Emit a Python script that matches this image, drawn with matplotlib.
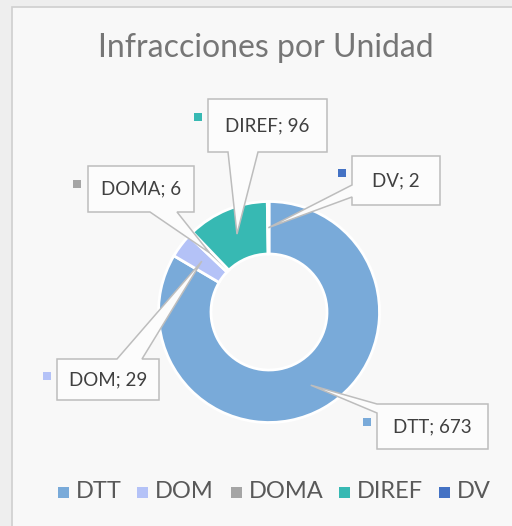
import numpy as np
import matplotlib
matplotlib.use("Agg")
import matplotlib.pyplot as plt
from matplotlib.patches import Polygon, Rectangle

plt.rcParams['font.family'] = ['Lato', 'DejaVu Sans']

# datos
unidades = ['DTT', 'DOM', 'DOMA', 'DIREF', 'DV']
infracciones = [673, 29, 6, 96, 2]
colores = ['#79aad9', '#b4c2f7', '#a5a5a5', '#37b9b3', '#4472c4']
titulo = 'Infracciones por Unidad'

W, H = 512, 526


def py(y):
    # pixel (desde arriba) -> coordenada del eje
    return H - y


# posiciones de las etiquetas (px): caja, lado del puntero, base del puntero, cuadrito
callouts = {
    'DTT':   dict(box=(377, 404, 488, 449), side='left',   base=(404, 413), key=(367, 422)),
    'DOM':   dict(box=(57, 359, 159, 400),  side='top',    base=(117, 142), key=(47, 376)),
    'DOMA':  dict(box=(88, 166, 194, 212),  side='bottom', base=(150, 177), key=(77, 184)),
    'DIREF': dict(box=(208, 99, 327, 152),  side='bottom', base=(228, 258), key=(198, 117)),
    'DV':    dict(box=(352, 156, 440, 205), side='left',   base=(185, 197), key=(342, 173)),
}

fig = plt.figure(figsize=(W / 100, H / 100), dpi=100, facecolor='#eeeeee')
ax = fig.add_axes([0, 0, 1, 1])

# marco del grafico
ax.add_patch(Rectangle((12, py(560)), 560, 553, facecolor='#f8f8f8',
                       edgecolor='#cfcfcf', linewidth=1.2, zorder=0))

cx, cy, r_out, ancho = 269, 312, 110.5, 52.5
wedges, _ = ax.pie(infracciones, colors=colores, startangle=90, counterclock=False,
                   radius=r_out, center=(cx, py(cy)), frame=True,
                   wedgeprops=dict(width=ancho, edgecolor='white', linewidth=2))

ax.set_xlim(0, W)
ax.set_ylim(0, H)
ax.set_aspect('equal')
ax.axis('off')

ax.text(266, py(48), titulo, ha='center', va='center', fontsize=23, color='#767676')


def callout_poly(box, side, base, tip):
    x0, y0, x1, y1 = box
    pts = [(x0, y0)]
    if side == 'top':
        pts += [(base[0], y0), tip, (base[1], y0)]
    pts += [(x1, y0), (x1, y1)]
    if side == 'bottom':
        pts += [(base[1], y1), tip, (base[0], y1)]
    pts += [(x0, y1)]
    if side == 'left':
        pts += [(x0, base[1]), tip, (x0, base[0])]
    return [(x, py(y)) for x, y in pts]


r_mid = r_out - ancho / 2
for w, nombre, valor, color in zip(wedges, unidades, infracciones, colores):
    c = callouts[nombre]
    ang = np.deg2rad((w.theta1 + w.theta2) / 2)
    tip = (cx + r_mid * np.cos(ang), cy - r_mid * np.sin(ang))
    ax.add_patch(Polygon(callout_poly(c['box'], c['side'], c['base'], tip), closed=True,
                         facecolor='#fcfcfc', edgecolor='#bdbdbd', linewidth=1.1, zorder=5))
    x0, y0, x1, y1 = c['box']
    ax.text((x0 + x1) / 2, py((y0 + y1) / 2), f'{nombre}; {valor}', ha='center', va='center',
            fontsize=13.5, color='#404040', zorder=6)
    kx, ky = c['key']
    ax.add_patch(Rectangle((kx - 4, py(ky + 4)), 8, 8, facecolor=color, edgecolor='none', zorder=6))

# leyenda
leg_x = [58, 137, 231, 339, 439]
leg_y = 492
for x, nombre, color in zip(leg_x, unidades, colores):
    ax.add_patch(Rectangle((x, py(leg_y + 5.5)), 11, 11, facecolor=color, edgecolor='none'))
    ax.text(x + 18, py(leg_y), nombre, ha='left', va='center', fontsize=17, color='#595959')

plt.savefig('out.png', dpi=100, facecolor=fig.get_facecolor())
